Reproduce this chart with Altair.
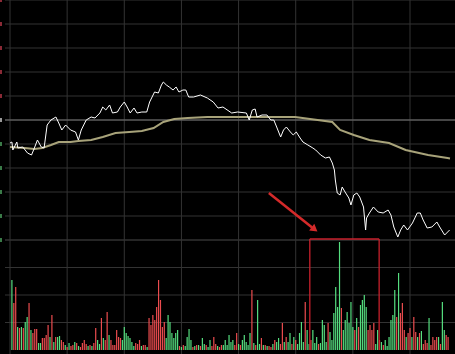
import altair as alt
import pandas as pd

# ---- price line (minute index, price) ----
price_minutes = [0, 1.0, 1.5, 3.6, 4.1, 6.7, 9.2, 11.3, 12.8, 14.4, 16.4, 17.9, 19.5, 21.5, 24.1, 25.6,
                 27.2, 29.2, 31.8, 34.4, 35.9, 37.4, 40.0, 42.6, 44.6, 47.2, 48.7, 50.3, 52.3, 53.8,
                 56.4, 57.9, 60.0, 61.5, 63.1, 65.1, 66.7, 69.2, 71.8, 73.3, 75.9, 77.9, 79.5, 80.5,
                 82.1, 83.6, 85.6, 87.2, 88.7, 90.8, 92.3, 93.8, 96.4, 100.0, 103.6, 106.7, 109.2,
                 111.8, 116.4, 119.5, 124.1, 125.6, 127.2, 128.7, 129.7, 132.3, 134.9, 136.9, 138.5,
                 140.0, 142.1, 143.6, 145.1, 147.2, 148.7, 150.3, 152.3, 153.8, 156.4, 159.0, 160.5,
                 163.1, 165.6, 167.7, 169.2, 170.3, 170.8, 171.8, 173.3, 174.4, 175.9, 177.9, 179.0,
                 180.5, 182.1, 183.6, 185.6, 186.7, 187.2, 188.7, 190.8, 193.3, 195.9, 198.5, 200.0,
                 201.5, 203.6, 205.1, 206.7, 208.7, 211.3, 213.8, 215.4, 216.9, 219.0, 221.5, 224.1,
                 225.6, 228.2, 230.8]
prices = [19.885, 19.89, 19.85, 19.89, 19.86, 19.865, 19.835, 19.825, 19.86, 19.90, 19.865, 19.86,
          19.975, 20.00, 20.015, 19.985, 19.95, 19.975, 19.95, 19.94, 19.90, 19.95, 20.00, 20.015,
          20.01, 20.035, 20.065, 20.05, 20.075, 20.035, 20.04, 20.065, 20.09, 20.065, 20.035, 20.06,
          20.035, 20.04, 20.04, 20.09, 20.14, 20.135, 20.175, 20.19, 20.175, 20.165, 20.15, 20.165,
          20.14, 20.15, 20.15, 20.115, 20.115, 20.125, 20.11, 20.09, 20.06, 20.065, 20.035, 20.04,
          20.035, 20.00, 20.05, 20.055, 20.015, 20.025, 20.025, 20.00, 20.00, 19.965, 19.915, 19.95,
          19.965, 19.94, 19.925, 19.94, 19.91, 19.89, 19.875, 19.86, 19.85, 19.825, 19.81, 19.815,
          19.785, 19.75, 19.70, 19.635, 19.625, 19.665, 19.64, 19.61, 19.575, 19.625, 19.635, 19.615,
          19.565, 19.45, 19.51, 19.535, 19.565, 19.54, 19.535, 19.55, 19.525, 19.465, 19.415, 19.45,
          19.475, 19.45, 19.485, 19.535, 19.535, 19.50, 19.46, 19.465, 19.49, 19.465, 19.425, 19.45]

# ---- average price line ----
avg_minutes = [0, 7.7, 12.8, 16.9, 21.5, 25.6, 31.8, 35.9, 42.6, 48.7, 55.4, 62.6, 69.2, 75.4, 80.5,
               86.2, 93.3, 103.6, 115.4, 149.7, 161.5, 169.2, 173.3, 180.5, 188.7, 199.0, 207.7,
               219.5, 229.7, 231.0]
avg_prices = [19.865, 19.86, 19.855, 19.86, 19.875, 19.89, 19.89, 19.895, 19.90, 19.915, 19.935,
              19.94, 19.945, 19.96, 19.99, 20.005, 20.01, 20.015, 20.015, 20.015, 20.00, 19.99, 19.95,
              19.925, 19.90, 19.885, 19.85, 19.825, 19.81, 19.808]

# ---- per-minute volume and up/down colour ----
volumes = [0, 70, 47, 63, 23, 22, 23, 22, 28, 33,
           47, 20, 17, 21, 21, 7, 7, 12, 12, 15,
           25, 13, 35, 8, 13, 13, 14, 10, 8, 5,
           3, 7, 4, 5, 8, 7, 4, 3, 7, 10,
           6, 4, 5, 4, 7, 22, 10, 6, 32, 12,
           10, 38, 15, 10, 5, 5, 20, 13, 12, 10,
           23, 17, 14, 12, 8, 4, 7, 6, 10, 4,
           5, 5, 3, 32, 25, 35, 30, 43, 70, 50,
           23, 28, 12, 35, 28, 17, 12, 17, 20, 4,
           3, 5, 4, 13, 21, 10, 3, 4, 5, 5,
           4, 12, 6, 5, 3, 10, 4, 13, 6, 4,
           3, 5, 5, 10, 5, 15, 8, 10, 5, 17,
           6, 5, 10, 15, 8, 5, 17, 60, 7, 5,
           50, 6, 12, 5, 5, 4, 4, 3, 6, 10,
           8, 12, 6, 27, 8, 13, 8, 17, 6, 13,
           10, 6, 17, 28, 8, 48, 20, 6, 10, 20,
           7, 13, 6, 7, 30, 25, 8, 27, 18, 10,
           37, 63, 43, 108, 42, 20, 30, 38, 27, 48,
           23, 20, 32, 23, 45, 50, 55, 43, 20, 25,
           20, 27, 6, 20, 10, 8, 5, 10, 4, 13,
           30, 35, 60, 33, 77, 37, 47, 20, 13, 17,
           22, 13, 33, 18, 13, 17, 19, 6, 10, 7,
           32, 5, 13, 10, 13, 13, 6, 48, 20, 15,
           13]
volume_colors = list("ggrrgrgrgg" "rgrrrggrrr" "rgrgrggrrg" "rgrrgrgrrr" "rgrgrrggrg"
                     "rrgrrrrrrg" "ggggggrrrg" "rrgrrrrrrr" "rrgggggggr" "grggggrgrg"
                     "rggrggrrrg" "rrggggggrr" "grgggggrgr" "ggrgrgrrgr" "ggrrgrggrg"
                     "rggggrggrg" "ggrggggrgg" "ggggrggggg" "grgrggggrr" "rrggrgrggg"
                     "gggrgrrrgr" "rgrrgrgrrr" "grrrrgrggr" "r")

# ---- grid levels ----
time_grid = [0, 30, 60, 90, 120, 150, 180, 210]
price_grid_up = [20.60, 20.48, 20.36, 20.24, 20.12]
price_grid_down = [19.88, 19.76, 19.64, 19.52, 19.40]
prev_close = [20.00]
volume_grid = [27.5, 55, 82.5, 110]

# ---- annotations ----
arrow_minutes = [135.9, 158.6]
arrow_prices = [19.635, 19.462]
arrow_head = [159.4, 19.457]
box_minutes = [157.4, 193.8]
box_top = 111

xs = alt.Scale(domain=[0, 231], nice=False, zero=False)
ps = alt.Scale(domain=[19.40, 20.60], range=[240, 0], nice=False, zero=False)
vs = alt.Scale(domain=[0, 110], range=[350, 240], nice=False, zero=False)

GRID = "#333333"

price_df = pd.DataFrame({"m": price_minutes, "p": prices})
avg_df = pd.DataFrame({"m": avg_minutes, "p": avg_prices})
vol_df = pd.DataFrame({"m": list(range(len(volumes))), "v": volumes, "c": volume_colors})
red_df = vol_df[vol_df["c"] == "r"].reset_index(drop=True)
green_df = vol_df[vol_df["c"] == "g"].reset_index(drop=True)
tgrid_df = pd.DataFrame({"m": time_grid})
pgrid_df = pd.DataFrame({"p": price_grid_up + price_grid_down})
up_df = pd.DataFrame({"p": price_grid_up})
down_df = pd.DataFrame({"p": price_grid_down})
pc_df = pd.DataFrame({"p": prev_close})
vgrid_df = pd.DataFrame({"v": volume_grid})
arrow_df = pd.DataFrame({"m": [arrow_minutes[0]], "m2": [arrow_minutes[1]],
                         "p": [arrow_prices[0]], "p2": [arrow_prices[1]]})
head_df = pd.DataFrame({"m": [arrow_head[0]], "p": [arrow_head[1]]})
box_df = pd.DataFrame({
    "m": [box_minutes[0], box_minutes[1], box_minutes[0]],
    "m2": [box_minutes[0], box_minutes[1], box_minutes[1]],
    "v": [0, 0, box_top],
    "v2": [box_top, box_top, box_top],
})


def X(f="m"):
    return alt.X(f"{f}:Q", scale=xs, axis=None)


def YP(f="p"):
    return alt.Y(f"{f}:Q", scale=ps, axis=None)


def YV(f="v"):
    return alt.Y(f"{f}:Q", scale=vs, axis=None)


# ---------- price part ----------
p_hgrid = alt.Chart(pgrid_df).mark_rule(color=GRID, strokeWidth=1).encode(y=YP())
p_prev = alt.Chart(pc_df).mark_rule(color="#5e5e5e", strokeWidth=1.5).encode(y=YP())
t_vgrid = alt.Chart(tgrid_df).mark_rule(color=GRID, strokeWidth=1).encode(x=X())
p_avg = alt.Chart(avg_df).mark_line(color="#a8a37a", strokeWidth=2).encode(x=X(), y=YP())
p_line = alt.Chart(price_df).mark_line(color="#ffffff", strokeWidth=1).encode(x=X(), y=YP())
p_arrow = alt.Chart(arrow_df).mark_rule(color="#d42a2a", strokeWidth=2.5).encode(
    x=X(), x2=alt.X2("m2"), y=YP(), y2=alt.Y2("p2"))
p_head = alt.Chart(head_df).mark_point(shape="triangle", filled=True, color="#d42a2a",
                                       size=70, angle=128, opacity=1).encode(x=X(), y=YP())
# clipped axis-label fragments at the far left edge
lab_up = alt.Chart(up_df).mark_rule(color="#8a2a36", strokeWidth=4).encode(
    x=alt.value(-5), x2=alt.value(-3), y=YP())
lab_mid = alt.Chart(pc_df).mark_rule(color="#9a9a9a", strokeWidth=4).encode(
    x=alt.value(-5), x2=alt.value(-3), y=YP())
lab_down = alt.Chart(down_df).mark_rule(color="#3a7a48", strokeWidth=4).encode(
    x=alt.value(-5), x2=alt.value(-3), y=YP())

price_layer = alt.layer(p_hgrid, p_prev, lab_up, lab_mid, lab_down, p_avg, p_line, p_arrow, p_head)

# ---------- volume part ----------
v_hgrid = alt.Chart(vgrid_df).mark_rule(color=GRID, strokeWidth=1).encode(y=YV())
v_red = alt.Chart(red_df).mark_bar(size=1.2, color="#ec4c4f").encode(x=X(), y=YV())
v_green = alt.Chart(green_df).mark_bar(size=1.2, color="#55de7f").encode(x=X(), y=YV())
v_box = alt.Chart(box_df).mark_rule(color="#c8202c", strokeWidth=1.3).encode(
    x=X(), x2=alt.X2("m2"), y=YV(), y2=alt.Y2("v2"))

volume_layer = alt.layer(v_hgrid, v_red, v_green, v_box)

chart = alt.layer(t_vgrid, price_layer, volume_layer).resolve_scale(y="independent").properties(
    width=450, height=354,
    padding={"left": 5, "top": 0, "right": 0, "bottom": 0},
    autosize=alt.AutoSizeParams(type="none"),
    background="#000000",
).configure_view(stroke=None)

chart.save("out.html", embed_options={"renderer": "svg", "actions": False})
